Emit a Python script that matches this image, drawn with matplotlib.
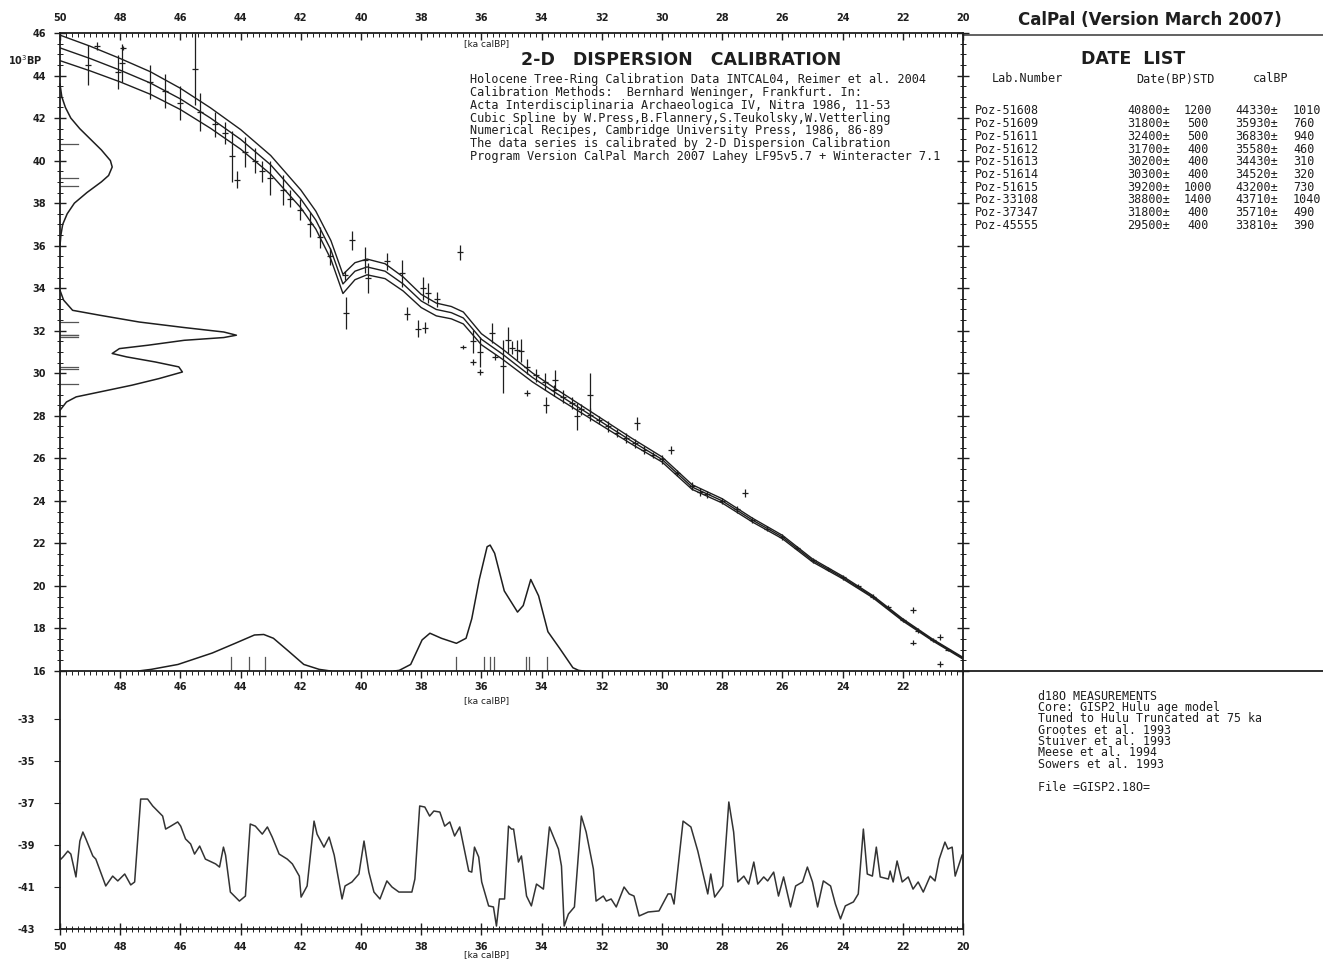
import numpy as np
import matplotlib
matplotlib.use("Agg")
import matplotlib.pyplot as plt
from matplotlib.ticker import MultipleLocator, FixedLocator
from matplotlib.lines import Line2D

# ---------------- data ----------------
# calibration curve (cal ka BP -> 14C ka BP), centre and 1-sigma half width
curve_cal = [50.0, 49.0, 48.0, 47.0, 46.0, 45.0, 44.0, 43.0, 42.0, 41.5, 41.0, 40.6,
             40.2, 39.8, 39.2, 38.6, 38.0, 37.5, 37.0, 36.6, 36.0, 35.3, 34.3, 33.5,
             32.5, 32.0, 31.0, 30.0, 29.0, 28.0, 27.0, 26.0, 25.0, 24.0, 23.0, 22.0, 21.0, 20.0]
curve_c14 = [45.3, 44.8, 44.25, 43.65, 42.9, 42.0, 41.0, 39.8, 38.2, 37.2, 35.8, 34.2,
             34.8, 35.0, 34.8, 34.2, 33.4, 33.0, 32.85, 32.6, 31.6, 30.9, 29.8, 29.05,
             28.15, 27.7, 26.8, 25.95, 24.65, 24.0, 23.1, 22.3, 21.2, 20.4, 19.5, 18.4, 17.45, 16.6]
curve_sig = [0.6, 0.58, 0.55, 0.53, 0.5, 0.48, 0.46, 0.44, 0.42, 0.42, 0.44, 0.45,
             0.4, 0.37, 0.35, 0.33, 0.31, 0.3, 0.29, 0.28, 0.26, 0.24, 0.21, 0.19,
             0.17, 0.16, 0.14, 0.12, 0.11, 0.1, 0.09, 0.08, 0.07, 0.06, 0.05, 0.05, 0.04, 0.04]

# calibration data points (cal ka, 14C ka, error ka)
pt_cal = [49.07, 48.77, 48.07, 47.94, 47.9, 47.01, 46.51, 46.01, 45.51, 45.35, 44.85, 44.52,
          44.29, 44.12, 43.85, 43.52, 43.29, 43.02, 42.59, 42.36, 42.03, 41.69, 41.36, 41.03,
          40.30, 40.53, 40.50, 39.87, 39.77, 39.14, 38.64, 38.47, 38.11, 37.94, 37.77, 37.87,
          37.48, 36.71, 36.61, 36.28, 36.05, 36.28, 36.05, 35.65, 35.55, 35.28, 35.12, 34.82,
          34.68, 34.49, 33.85, 33.55, 32.82, 32.39, 30.83,
          35.0, 34.5, 34.2, 33.9, 33.6, 33.3, 33.0, 32.7, 32.4, 32.1, 31.8, 31.5, 31.2, 30.9,
          30.6, 30.3, 30.0, 29.7, 29.5, 29.0, 28.74, 28.5, 28.0, 27.5, 27.24, 27.0, 26.5, 26.0,
          25.5, 25.0, 24.5, 24.0, 23.5, 23.0, 22.5, 22.0, 21.66, 21.66, 21.5, 21.0, 20.76,
          20.76, 20.5]
pt_c14 = [44.5, 45.4, 44.15, 44.6, 45.3, 43.7, 43.25, 42.7, 44.3, 42.3, 41.7, 41.3,
          40.2, 39.1, 40.4, 40.0, 39.5, 39.2, 38.6, 38.2, 37.7, 37.0, 36.4, 35.5,
          36.25, 34.6, 32.85, 35.33, 34.48, 35.26, 34.7, 32.8, 32.1, 34.0, 33.77, 32.15,
          33.47, 35.68, 31.25, 31.5, 31.0, 30.53, 30.06, 31.9, 30.77, 30.32, 31.57, 31.1,
          31.05, 29.07, 28.5, 29.7, 27.97, 28.97, 27.65,
          31.2, 30.3, 29.9, 29.6, 29.2, 28.9, 28.6, 28.3, 28.05, 27.8, 27.5, 27.2, 26.95, 26.7,
          26.4, 26.15, 25.95, 26.4, 25.3, 24.7, 24.42, 24.3, 24.0, 23.6, 24.37, 23.1, 22.7, 22.3,
          21.8, 21.2, 20.8, 20.4, 20.0, 19.5, 19.0, 18.4, 18.87, 17.32, 17.9, 17.45, 17.6,
          16.33, 17.0]
pt_err = [0.95, 0.2, 0.8, 0.9, 0.1, 0.8, 0.8, 0.8, 1.7, 0.9, 0.6, 0.5,
          1.2, 0.4, 0.7, 0.6, 0.5, 0.8, 0.7, 0.4, 0.5, 0.6, 0.5, 0.4,
          0.45, 0.2, 0.75, 0.6, 0.7, 0.4, 0.63, 0.3, 0.4, 0.54, 0.47, 0.26,
          0.35, 0.35, 0.1, 0.54, 0.7, 0.12, 0.12, 0.47, 0.15, 1.25, 0.6, 0.47,
          0.54, 0.15, 0.38, 0.47, 0.63, 1.03, 0.3,
          0.3, 0.35, 0.3, 0.4, 0.25, 0.3, 0.3, 0.25, 0.3, 0.2, 0.25, 0.2, 0.25, 0.2,
          0.2, 0.15, 0.2, 0.2, 0.15, 0.2, 0.2, 0.15, 0.15, 0.15, 0.2, 0.12, 0.12, 0.12,
          0.1, 0.1, 0.1, 0.1, 0.1, 0.1, 0.1, 0.1, 0.15, 0.12, 0.1, 0.1, 0.15,
          0.12, 0.08]

# sample dates (date list)
lab_ids = ["Poz-51608", "Poz-51609", "Poz-51611", "Poz-51612", "Poz-51613",
           "Poz-51614", "Poz-51615", "Poz-33108", "Poz-37347", "Poz-45555"]
date_bp = [40800, 31800, 32400, 31700, 30200, 30300, 39200, 38800, 31800, 29500]
date_std = [1200, 500, 500, 400, 400, 400, 1000, 1400, 400, 400]
cal_bp = [44330, 35930, 36830, 35580, 34430, 34520, 43200, 43710, 35710, 33810]
cal_std = [1010, 760, 940, 460, 310, 320, 730, 1040, 490, 390]

# 14C probability (relative) along y axis
dens14_c14 = [43.6, 43.0, 42.5, 42.0, 41.5, 41.0, 40.5, 40.0, 39.7, 39.3, 39.0, 38.5, 38.0,
              37.5, 37.0, 36.5, 36.0]
dens14_p = [0.0, 0.01, 0.03, 0.06, 0.11, 0.17, 0.23, 0.28, 0.29, 0.27, 0.23, 0.15, 0.08,
            0.04, 0.015, 0.005, 0.0]
dens14b_c14 = [33.9, 33.44, 32.96, 32.73, 32.41, 32.15, 31.94, 31.79, 31.68, 31.55, 31.32,
               31.16, 30.93, 30.77, 30.53, 30.30, 30.06, 29.75, 29.44, 29.12, 28.89, 28.65, 28.26]
dens14b_p = [0.0, 0.02, 0.07, 0.22, 0.44, 0.69, 0.91, 0.98, 0.91, 0.69, 0.49,
             0.33, 0.29, 0.37, 0.53, 0.66, 0.68, 0.55, 0.40, 0.22, 0.09, 0.036, 0.0]

# calendar probability (relative) along x axis
denscal_a_cal = [47.4, 46.97, 46.08, 44.94, 44.18, 43.54, 43.23, 42.91, 42.40, 41.90, 41.39, 41.01]
denscal_a_p = [0.0, 0.013, 0.052, 0.143, 0.22, 0.286, 0.29, 0.26, 0.156, 0.052, 0.013, 0.0]
denscal_b_cal = [38.9, 38.73, 38.35, 37.97, 37.71, 37.33, 36.83, 36.51, 36.32, 36.07, 35.81,
                 35.71, 35.56, 35.24, 34.80, 34.61, 34.36, 34.10, 33.79, 33.40, 32.96, 32.77, 32.6]
denscal_b_p = [0.0, 0.005, 0.052, 0.247, 0.30, 0.26, 0.22, 0.26, 0.415, 0.727, 0.987,
               1.0, 0.935, 0.636, 0.468, 0.52, 0.727, 0.597, 0.312, 0.18, 0.026, 0.005, 0.0]

# GISP2 d18O record
d18_age = [49.97, 49.90, 49.74, 49.64, 49.47, 49.34, 49.24, 49.14, 48.91, 48.81, 48.48, 48.25,
           48.08, 47.85, 47.65, 47.52, 47.32, 47.09, 46.92, 46.59, 46.49, 46.32, 46.09, 45.99,
           45.83, 45.66, 45.53, 45.36, 45.17, 44.83, 44.70, 44.57, 44.50, 44.34, 44.04, 43.84,
           43.68, 43.51, 43.28, 43.11, 42.95, 42.72, 42.45, 42.28, 42.05, 41.99, 41.79, 41.56,
           41.46, 41.23, 41.06, 40.89, 40.63, 40.53, 40.30, 40.07, 39.90, 39.74, 39.57, 39.37,
           39.14, 38.97, 38.74, 38.31, 38.21, 38.05, 37.88, 37.72, 37.58, 37.38, 37.22, 37.05,
           36.89, 36.72, 36.42, 36.32, 36.23, 36.09, 35.99, 35.76, 35.60, 35.50, 35.40, 35.23,
           35.10, 35.00, 34.93, 34.77, 34.67, 34.50, 34.34, 34.17, 33.94, 33.74, 33.44, 33.34,
           33.25, 33.11, 32.91, 32.68, 32.52, 32.28, 32.19, 31.95, 31.85, 31.69, 31.52, 31.26,
           31.09, 30.93, 30.76, 30.46, 30.10, 29.80, 29.70, 29.60, 29.30, 29.04, 28.81, 28.48,
           28.38, 28.25, 27.98, 27.78, 27.62, 27.48, 27.28, 27.12, 26.95, 26.82, 26.62, 26.49,
           26.29, 26.13, 25.96, 25.73, 25.56, 25.33, 25.17, 25.00, 24.83, 24.64, 24.40, 24.24,
           24.07, 23.91, 23.64, 23.48, 23.31, 23.18, 23.01, 22.88, 22.75, 22.48, 22.42, 22.32,
           22.19, 22.02, 21.82, 21.66, 21.49, 21.32, 21.09, 20.93, 20.79, 20.60, 20.50, 20.36,
           20.26, 20.03]
d18_val = [-39.67, -39.57, -39.29, -39.43, -40.52, -38.81, -38.38, -38.71, -39.52, -39.67, -40.95, -40.48,
           -40.71, -40.38, -40.90, -40.76, -36.81, -36.81, -37.14, -37.62, -38.24, -38.10, -37.90, -38.10,
           -38.71, -38.95, -39.43, -39.05, -39.67, -39.90, -40.05, -39.10, -39.48, -41.24, -41.67, -41.43,
           -38.00, -38.10, -38.48, -38.14, -38.62, -39.43, -39.67, -39.90, -40.48, -41.48, -40.95, -37.86,
           -38.48, -39.10, -38.62, -39.48, -41.57, -40.95, -40.76, -40.38, -38.81, -40.29, -41.24, -41.57,
           -40.71, -41.00, -41.24, -41.24, -40.62, -37.14, -37.19, -37.62, -37.38, -37.43, -38.10, -37.90,
           -38.57, -38.14, -40.24, -40.29, -39.10, -39.57, -40.76, -41.90, -41.95, -42.86, -41.57, -41.57,
           -38.10, -38.24, -38.24, -39.81, -39.52, -41.43, -41.90, -40.86, -41.10, -38.14, -39.19, -40.00,
           -42.86, -42.29, -41.95, -37.62, -38.38, -40.14, -41.67, -41.43, -41.67, -41.57, -41.95, -41.00,
           -41.33, -41.43, -42.38, -42.19, -42.14, -41.33, -41.33, -41.81, -37.86, -38.14, -39.29, -41.33,
           -40.38, -41.48, -40.95, -36.95, -38.38, -40.76, -40.48, -40.86, -39.81, -40.86, -40.52, -40.71,
           -40.29, -41.43, -40.52, -41.95, -40.95, -40.76, -40.05, -40.76, -41.95, -40.71, -40.95, -41.81,
           -42.52, -41.90, -41.71, -41.33, -38.24, -40.38, -40.48, -39.10, -40.52, -40.62, -40.24, -40.76,
           -39.76, -40.76, -40.52, -41.10, -40.76, -41.24, -40.48, -40.71, -39.67, -38.86, -39.19, -39.10,
           -40.48, -39.48]

top_ticks = [50, 48, 46, 44, 42, 40, 38, 36, 34, 32, 30, 28, 26, 24, 22, 20]
mid_ticks = [48, 46, 44, 42, 40, 38, 36, 34, 32, 30, 28, 26, 24, 22]
c14_ticks = [46, 44, 42, 40, 38, 36, 34, 32, 30, 28, 26, 24, 22, 20, 18, 16]
d18_ticks = [-33, -35, -37, -39, -41, -43]

info_lines = [
    "Holocene Tree-Ring Calibration Data INTCAL04, Reimer et al. 2004",
    "Calibration Methods:  Bernhard Weninger, Frankfurt. In:",
    "Acta Interdisciplinaria Archaeologica IV, Nitra 1986, 11-53",
    "Cubic Spline by W.Press,B.Flannery,S.Teukolsky,W.Vetterling",
    "Numerical Recipes, Cambridge University Press, 1986, 86-89",
    "The data series is calibrated by 2-D Dispersion Calibration",
    "Program Version CalPal March 2007 Lahey LF95v5.7 + Winteracter 7.1",
]
d18_lines = [
    "d18O MEASUREMENTS",
    "Core: GISP2 Hulu age model",
    "Tuned to Hulu Truncated at 75 ka",
    "Grootes et al. 1993",
    "Stuiver et al. 1993",
    "Meese et al. 1994",
    "Sowers et al. 1993",
    "",
    "File =GISP2.18O=",
]

# ---------------- figure ----------------
W, H = 1323, 961
fig = plt.figure(figsize=(W / 100, H / 100), dpi=100)
fig.patch.set_facecolor("white")
INK = "#1e1e1e"
FONT = "DejaVu Sans"
MONO = "DejaVu Sans Mono"


def fx(x):
    return x / W


def fy(y):
    return 1 - y / H


L, R, T, M, B = 60, 963, 33, 671, 929
ax = fig.add_axes([fx(L), fy(M), fx(R) - fx(L), fy(T) - fy(M)])
ax2 = fig.add_axes([fx(L), fy(B), fx(R) - fx(L), fy(M) - fy(B)])
ax2.patch.set_visible(False)
ax.set_zorder(3)
ax.patch.set_visible(False)

for a in (ax, ax2):
    for s in a.spines.values():
        s.set_linewidth(1.3)
        s.set_color(INK)

ax.set_xlim(50, 20)
ax.set_ylim(16, 46)
ax2.set_xlim(50, 20)
ax2.set_ylim(-43, -30.71)
ax2.spines["top"].set_visible(False)

# --- calibration band ---
cc = np.array(curve_c14)
cs = np.array(curve_sig)
for yy in (cc + cs, cc, cc - cs):
    ax.plot(curve_cal, yy, color=INK, lw=1.0, zorder=3)

ax.errorbar(pt_cal, pt_c14, yerr=pt_err, fmt="_", ms=4, mew=0.9, color=INK,
            ecolor=INK, elinewidth=0.9, capsize=0, zorder=4)

# --- probability distributions ---
amp_x = 5.98   # cal ka at full probability
amp_y = 5.92   # 14C ka at full probability
ax.plot(50 - amp_x * np.array(dens14_p), dens14_c14, color=INK, lw=1.1, clip_on=False)
ax.plot(50 - amp_x * np.array(dens14b_p), dens14b_c14, color=INK, lw=1.1, clip_on=False)
ax.plot(denscal_a_cal, 16 + amp_y * np.array(denscal_a_p), color=INK, lw=1.1)
ax.plot(denscal_b_cal, 16 + amp_y * np.array(denscal_b_p), color=INK, lw=1.1)
for d in date_bp:
    ax.plot([50, 49.4], [d / 1000, d / 1000], color="#555555", lw=0.9)
for c in cal_bp:
    ax.plot([c / 1000, c / 1000], [16, 16.68], color="#555555", lw=0.9)

# --- axes ticks main ---
ax.xaxis.set_major_locator(FixedLocator(mid_ticks))
ax.xaxis.set_minor_locator(MultipleLocator(0.2))
ax.set_xticklabels([str(t) for t in mid_ticks])
ax.tick_params(axis="x", which="both", top=False, bottom=True, direction="out",
               labelsize=7, pad=3, colors=INK)
ax.tick_params(axis="x", which="major", length=5, width=1)
ax.tick_params(axis="x", which="minor", length=3, width=0.7)
ax.yaxis.set_major_locator(FixedLocator(c14_ticks))
ax.yaxis.set_minor_locator(MultipleLocator(0.5))
ax.tick_params(axis="y", which="both", left=True, right=True, direction="inout",
               labelsize=7, pad=6, colors=INK)
ax.tick_params(axis="y", which="major", length=8, width=1)
ax.tick_params(axis="y", which="minor", length=4, width=0.7)
for lab in ax.get_xticklabels() + ax.get_yticklabels():
    lab.set_fontweight("bold")

sec = ax.secondary_xaxis("top")
sec.xaxis.set_major_locator(FixedLocator(top_ticks))
sec.xaxis.set_minor_locator(MultipleLocator(0.2))
sec.set_xticklabels([str(t) for t in top_ticks])
sec.tick_params(axis="x", which="both", direction="in", labelsize=7, pad=7, colors=INK)
sec.tick_params(axis="x", which="major", length=5, width=1)
sec.tick_params(axis="x", which="minor", length=3, width=0.7)
for lab in sec.get_xticklabels():
    lab.set_fontweight("bold")
sec.spines["top"].set_visible(False)

# --- d18O panel ---
ax2.plot(d18_age, d18_val, color="#333333", lw=1.1)
ax2.xaxis.set_major_locator(FixedLocator(top_ticks))
ax2.xaxis.set_minor_locator(MultipleLocator(0.2))
ax2.set_xticklabels([str(t) for t in top_ticks])
ax2.tick_params(axis="x", which="both", direction="inout", labelsize=7, pad=5, colors=INK)
ax2.tick_params(axis="x", which="major", length=8, width=1)
ax2.tick_params(axis="x", which="minor", length=4, width=0.7)
ax2.yaxis.set_major_locator(FixedLocator(d18_ticks))
ax2.set_yticklabels([str(t) for t in d18_ticks])
ax2.tick_params(axis="y", which="major", direction="out", length=4, labelsize=7, pad=14, colors=INK)
ax2.tick_params(axis="y", right=False)
for lab in ax2.get_xticklabels() + ax2.get_yticklabels():
    lab.set_fontweight("bold")

# --- text ---
kw = dict(color=INK)
fig.text(fx(487), fy(44), "[ka calBP]", ha="center", va="center", fontsize=6.5, family=FONT, **kw)
fig.text(fx(487), fy(701), "[ka calBP]", ha="center", va="center", fontsize=6.5, family=FONT, **kw)
fig.text(fx(487), fy(955), "[ka calBP]", ha="center", va="center", fontsize=6.5, family=FONT, **kw)
fig.text(fx(8), fy(60), "10$^3$BP", ha="left", va="center", fontsize=7, fontweight="bold",
         family=FONT, **kw)
fig.text(fx(681), fy(60), "2-D   DISPERSION   CALIBRATION", ha="center", va="center",
         fontsize=12.5, fontweight="bold", family=FONT, **kw)
for i, line in enumerate(info_lines):
    t = fig.text(fx(470), fy(80 + i * 12.7), line, fontsize=8.6, ha="left", va="center",
                 family=MONO, **kw)
    t.set_clip_on(True)
    t.set_clip_box(ax.bbox)

fig.text(fx(1150), fy(20), "CalPal (Version March 2007)", ha="center", va="center",
         fontsize=12, fontweight="bold", family=FONT, **kw)
fig.text(fx(1133), fy(59), "DATE  LIST", ha="center", va="center", fontsize=12.5,
         fontweight="bold", family=FONT, **kw)
fig.text(fx(992), fy(79), "Lab.Number", ha="left", va="center", fontsize=8.5, family=MONO, **kw)
fig.text(fx(1136), fy(79), "Date(BP)STD", ha="left", va="center", fontsize=8.5, family=MONO, **kw)
fig.text(fx(1253), fy(79), "calBP", ha="left", va="center", fontsize=8.5, family=MONO, **kw)
for i in range(len(lab_ids)):
    yy = fy(111 + i * 12.7)
    fig.text(fx(975), yy, lab_ids[i], ha="left", va="center", fontsize=8.5, family=MONO, **kw)
    fig.text(fx(1170), yy, f"{date_bp[i]}\u00b1", ha="right", va="center", fontsize=8.5,
             family=MONO, **kw)
    fig.text(fx(1198), yy, f"{date_std[i]}", ha="center", va="center", fontsize=8.5,
             family=MONO, **kw)
    fig.text(fx(1278), yy, f"{cal_bp[i]}\u00b1", ha="right", va="center", fontsize=8.5,
             family=MONO, **kw)
    fig.text(fx(1293), yy, f"{cal_std[i]}", ha="left", va="center", fontsize=8.5,
             family=MONO, **kw)

for i, line in enumerate(d18_lines):
    fig.text(fx(1038), fy(696 + i * 11.4), line, ha="left", va="center", fontsize=8.4,
             family=MONO, **kw)

# frame lines of the right-hand panels
fig.add_artist(Line2D([fx(R), 1], [fy(35), fy(35)], color="#555555", lw=1.3))
fig.add_artist(Line2D([fx(R), 1], [fy(M), fy(M)], color=INK, lw=1.3))

fig.savefig("out.png", dpi=100, facecolor="white")
